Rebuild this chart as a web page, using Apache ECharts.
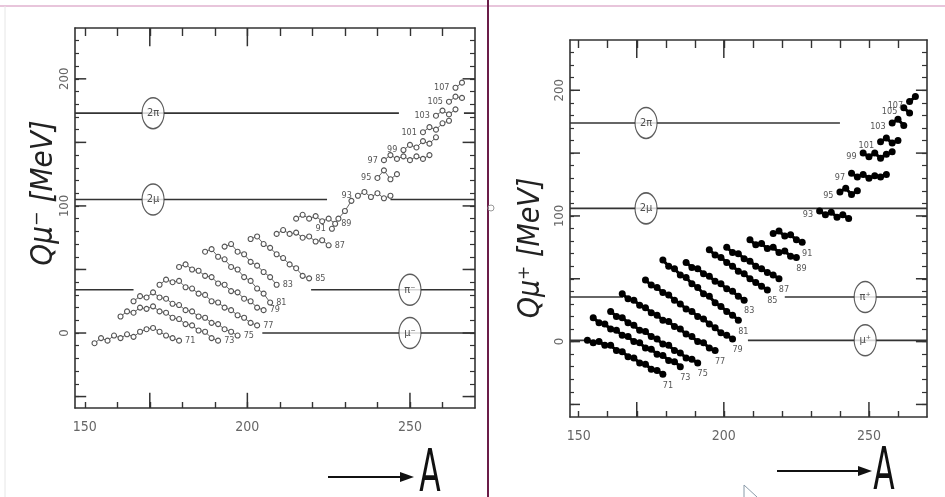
<!DOCTYPE html>
<html><head><meta charset="utf-8">
<script src="https://cdn.jsdelivr.net/npm/echarts@6/dist/echarts.min.js"></script>
<style>html,body{margin:0;padding:0;background:#fff}#c{width:945px;height:497px}</style>
</head><body><div id="c"></div>
<script>
// ---------- axis ticks / labels ----------
const X_MIN = 147, X_MAX = 270;
const Y_MIN_L = -59, Y_MAX_L = 240;
const Y_MIN_R = -60, Y_MAX_R = 240;
const xMinorTicks = [150,160,170,180,190,200,210,220,230,240,250,260];
const xLongTicksBottom = [170,200,250];
const xLongTicksTop = [170,200];
const xLabels = [150,200,250];
const yMinorTicks = [-50,-40,-30,-20,-10,0,10,20,30,40,50,60,70,80,90,100,110,120,130,140,150,160,170,180,190,200,210,220,230];
const yMajorTicks = [-50,0,50,100,150,200];
const yLabels = [0,100,200];

// ---------- isotope chains (Z), step in A ----------
const STEP = 2;
const zList = [71,73,75,77,79,81,83,85,87,89,91,93,95,97,99,101,103,105,107];

// left panel (mu-) : first A of each chain
const aLeft = [153,161,165,173,179,187,193,201,209,215,226,234,240,242,248,254,258,262,264];
const qL71 = [-8,-4,-6,-2,-4,-1,-3,1,3,4,1,-2,-4,-6];
const qL73 = [13,17,16,20,19,21,17,16,12,11,7,6,2,1,-4,-6];
const qL75 = [25,29,28,32,28,27,23,22,18,17,13,12,8,7,3,1,-2];
const qL77 = [38,42,40,41,36,35,31,30,25,24,20,18,14,12,8,6];
const qL79 = [52,54,50,49,45,44,39,38,33,32,27,25,20,18];
const qL81 = [64,66,60,58,52,50,44,41,35,31,24];
const qL83 = [68,70,64,62,56,53,48,44,38];
const qL85 = [74,76,70,67,62,59,54,51,45,43];
const qL87 = [78,81,78,79,75,76,72,73,69];
const qL89 = [90,93,90,92,88,90,86];
const qL91 = [82,90,96,104];
const qL93 = [108,111,107,110,106,108];
const qL95 = [122,128,121,125];
const qL97 = [136,140,137,139,136,139,137,140];
const qL99 = [144,148,146,151,149,154];
const qL101 = [158,162,160,165,167];
const qL103 = [171,175,172,176];
const qL105 = [182,186,185];
const qL107 = [193,197];
const qLeft = [qL71,qL73,qL75,qL77,qL79,qL81,qL83,qL85,qL87,qL89,qL91,qL93,qL95,qL97,qL99,qL101,qL103,qL105,qL107];

// right panel (mu+)
const aRight = [153,155,161,165,173,179,187,195,201,209,217,233,240,244,248,254,258,262,264];
const qR71 = [1,-1,0,-3,-3,-7,-8,-12,-13,-17,-18,-22,-23,-26];
const qR73 = [19,15,14,10,9,5,4,0,-1,-5,-6,-10,-11,-15,-16,-20];
const qR75 = [24,20,19,15,13,9,8,4,2,-2,-3,-7,-9,-13,-14,-17];
const qR77 = [38,34,33,29,27,23,21,17,16,12,10,6,4,0,-1,-5,-7];
const qR79 = [49,45,43,39,37,33,30,26,24,20,18,14,11,7,5,2];
const qR81 = [65,60,58,53,51,46,43,38,36,31,28,24,21,17];
const qR83 = [63,59,58,54,52,48,46,42,40,36,33];
const qR85 = [73,69,67,63,60,56,54,50,47,44,41];
const qR87 = [75,71,70,66,64,60,58,55,53,50];
const qR89 = [81,77,78,74,75,71,72,68,67];
const qR91 = [86,88,84,85,81,79];
const qR93 = [104,101,103,99,101,98];
const qR95 = [119,122,117,120];
const qR97 = [134,131,133,130,132,131,133];
const qR99 = [150,147,150,146,149,151];
const qR101 = [159,162,158,160];
const qR103 = [174,177,172];
const qR105 = [186,182];
const qR107 = [191,195];
const qRight = [qR71,qR73,qR75,qR77,qR79,qR81,qR83,qR85,qR87,qR89,qR91,qR93,qR95,qR97,qR99,qR101,qR103,qR105,qR107];

// ---------- reference levels ----------
const refNamesL = ['2π','2μ','π⁻','μ⁻'];
const refLevelsL = [173,105,34,0];
const refSegsL = [[[147,246.6],[266.6,270]], [[147,224.5],[244,270]], [[147,165],[219.6,270]], [[204.6,270]]];
const refTagAL = [171,171,250,250];

const refNamesR = ['2π','2μ','π⁺','μ⁺'];
const refLevelsR = [174,106,35.5,1];
const refSegsR = [[[147,240]], [[147,270]], [[147,165.3],[221,270]], [[147,153.9],[208.3,270]]];
const refTagAR = [173.2,173.2,248.7,248.7];

// ---------- build ----------
const FONT = '"DejaVu Sans Condensed","DejaVu Sans",sans-serif';
const AX = '#333';
const gridRects = [
  {left:75, top:28, width:400, height:380},
  {left:570, top:40, width:357, height:377}
];
const yRanges = [[Y_MIN_L, Y_MAX_L], [Y_MIN_R, Y_MAX_R]];

const xAxes = [], yAxes = [];
[0, 1].forEach(g => {
  const bx = {type:'value', gridIndex:g, min:X_MIN, max:X_MAX, splitLine:{show:false}};
  xAxes.push(Object.assign({}, bx, {position:'bottom', axisLine:{show:true, onZero:false, lineStyle:{color:AX, width:1.6}},
    axisTick:{show:true, inside:true, length:6, customValues:xMinorTicks, lineStyle:{color:AX, width:1.4}},
    axisLabel:{show:true, customValues:xLabels, margin:12, fontSize:14, color:'#666', fontFamily:FONT}}));
  xAxes.push(Object.assign({}, bx, {position:'top', axisLine:{show:true, onZero:false, lineStyle:{color:AX, width:1.6}},
    axisTick:{show:true, inside:true, length:8, customValues:xMinorTicks, lineStyle:{color:AX, width:1.4}},
    axisLabel:{show:false}}));
  const by = {type:'value', gridIndex:g, min:yRanges[g][0], max:yRanges[g][1], splitLine:{show:false}};
  yAxes.push(Object.assign({}, by, {position:'left', axisLine:{show:true, onZero:false, lineStyle:{color:AX, width:1.6}},
    axisTick:{show:true, inside:true, length:4, customValues:yMinorTicks, lineStyle:{color:AX, width:1.2}},
    axisLabel:{show:true, customValues:yLabels, rotate:90, margin:4, fontSize:13, color:'#666', fontFamily:FONT}}));
  yAxes.push(Object.assign({}, by, {position:'right', axisLine:{show:true, onZero:false, lineStyle:{color:AX, width:1.6}},
    axisTick:{show:true, inside:true, length:5, customValues:yMinorTicks, lineStyle:{color:AX, width:1.2}},
    axisLabel:{show:false}}));
});

const series = [];

// long (major) ticks drawn through the axis scales as short line series
[0, 1].forEach(g => {
  const yr = yRanges[g];
  const ySpan = yr[1] - yr[0];
  const xSpan = X_MAX - X_MIN;
  const segs = [];
  xLongTicksBottom.forEach(v => segs.push([[v, yr[0]], [v, yr[0] + ySpan * 0.04]]));
  xLongTicksTop.forEach(v => segs.push([[v, yr[1]], [v, yr[1] - ySpan * 0.048]]));
  yMajorTicks.forEach(v => segs.push([[X_MIN, v], [X_MIN + xSpan * 0.028, v]]));
  yMajorTicks.forEach(v => segs.push([[X_MAX, v], [X_MAX - xSpan * 0.031, v]]));
  segs.forEach(s => series.push({type:'line', xAxisIndex:g*2, yAxisIndex:g*2, silent:true, z:4,
    symbol:'none', clip:false, data:s, lineStyle:{color:AX, width:1.5}}));
});

function addChain(q, a0, z, g, open, labelAtEnd, labelPos, offset) {
  const data = q.map((v, k) => ({value:[a0 + STEP * k, v]}));
  const idx = labelAtEnd ? data.length - 1 : 0;
  data[idx].label = {show:true, formatter:String(z), position:labelPos, distance:3, offset:offset,
    fontSize:9, color:'#555', fontFamily:FONT};
  series.push({
    type:'line', xAxisIndex:g*2, yAxisIndex:g*2, data:data, z:3, silent:true,
    showAllSymbol:true, symbol:'circle', symbolSize: open ? 5 : 7,
    itemStyle: open ? {color:'#fff', borderColor:'#555', borderWidth:1.1} : {color:'#000', borderColor:'#000', borderWidth:0},
    lineStyle: open ? {color:'#666', width:1} : {color:'#000', width:3},
    label:{show:false}
  });
}
zList.forEach((z, i) => {
  addChain(qLeft[i], aLeft[i], z, 0, true, z <= 89, z <= 89 ? 'right' : 'left', [0, 0]);
  addChain(qRight[i], aRight[i], z, 1, false, z <= 91, z <= 91 ? 'bottom' : 'left', z <= 91 ? [5, 0] : [0, 4]);
});

function addRefs(names, levels, segs, tags, g) {
  names.forEach((n, i) => {
    segs[i].forEach(s => {
      series.push({type:'line', xAxisIndex:g*2, yAxisIndex:g*2, silent:true, z:1, symbol:'none',
        data:[[s[0], levels[i]], [s[1], levels[i]]], lineStyle:{color:'#333', width:1.6}});
    });
    series.push({type:'scatter', xAxisIndex:g*2, yAxisIndex:g*2, silent:true, z:5,
      data:[[tags[i], levels[i]]], symbol:'circle', symbolSize:[22, 31],
      itemStyle:{color:'#fff', borderColor:'#333', borderWidth:1.3},
      label:{show:true, position:'inside', formatter:n, fontSize:11, color:'#222', fontFamily:FONT}});
  });
}
addRefs(refNamesL, refLevelsL, refSegsL, refTagAL, 0);
addRefs(refNamesR, refLevelsR, refSegsR, refTagAR, 1);

const option = {
  animation:false,
  backgroundColor:'#fff',
  grid: gridRects.map(r => Object.assign({show:false, outerBoundsMode:'none'}, r)),
  xAxis: xAxes,
  yAxis: yAxes,
  series: series,
  graphic:[
    {type:'line', shape:{x1:0, y1:6, x2:945, y2:6}, style:{stroke:'#e0b2cf', lineWidth:1.5}},
    {type:'line', shape:{x1:5, y1:6, x2:5, y2:497}, style:{stroke:'#e6e6e6', lineWidth:1}},
    {type:'line', shape:{x1:488, y1:0, x2:488, y2:497}, style:{stroke:'#6b1d48', lineWidth:2}},
    {type:'circle', shape:{cx:491, cy:208, r:3}, style:{fill:'none', stroke:'#999', lineWidth:1}},
    {type:'text', x:44, y:193, rotation:Math.PI/2,
      style:{text:'Qμ⁻ [MeV]', font:'italic 31px ' + FONT, fill:'#222', align:'center', verticalAlign:'middle'}},
    {type:'text', x:531, y:248, rotation:Math.PI/2,
      style:{text:'Qμ⁺ [MeV]', font:'italic 30px ' + FONT, fill:'#222', align:'center', verticalAlign:'middle'}},
    {type:'line', shape:{x1:328, y1:477, x2:404, y2:477}, style:{stroke:'#111', lineWidth:2}},
    {type:'polygon', shape:{points:[[400,472],[414,477],[400,482]]}, style:{fill:'#111'}},
    {type:'text', x:430, y:476, scaleX:0.6,
      style:{text:'A', font:'58px ' + FONT, fill:'#111', align:'center', verticalAlign:'middle'}},
    {type:'line', shape:{x1:777, y1:471, x2:862, y2:471}, style:{stroke:'#111', lineWidth:2}},
    {type:'polygon', shape:{points:[[858,466],[872,471],[858,476]]}, style:{fill:'#111'}},
    {type:'text', x:884, y:474, scaleX:0.6,
      style:{text:'A', font:'58px ' + FONT, fill:'#111', align:'center', verticalAlign:'middle'}},
    {type:'polyline', shape:{points:[[744,497],[744,485],[757,497]]}, style:{stroke:'#8a9aa8', lineWidth:1, fill:'none'}}
  ]
};
const chart = echarts.init(document.getElementById('c'), null, {renderer:'canvas'});
chart.setOption(option);
</script></body></html>
